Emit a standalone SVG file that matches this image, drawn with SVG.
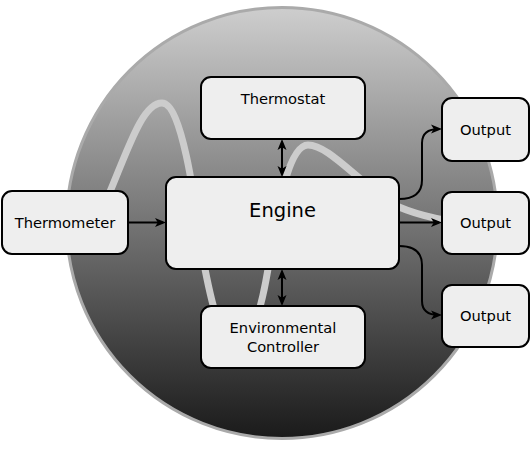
<svg xmlns="http://www.w3.org/2000/svg" width="532" height="450" viewBox="0 0 532 450">
  <defs>
    <linearGradient id="bg" x1="0" y1="0" x2="0" y2="1">
      <stop offset="0" stop-color="#cecece"/>
      <stop offset="1" stop-color="#1a1a1a"/>
    </linearGradient>
    <marker id="ah" viewBox="0 0 11 11" refX="8" refY="5.5" markerWidth="11" markerHeight="11" markerUnits="userSpaceOnUse" orient="auto-start-reverse">
      <path d="M0,1 L11,5.5 L0,10 L2.8,5.5 z" fill="#000"/>
    </marker>
  </defs>
  <style>
    .box { fill: #eeeeee; stroke: #000; stroke-width: 2; }
    .lbl { font-family: "DejaVu Sans", "Liberation Sans", sans-serif; font-size: 14.7px; fill: #000; text-anchor: middle; }
    .big { font-size: 19.5px; }
    .conn { fill: none; stroke: #000; stroke-width: 2; }
  </style>
  <g id="background">
    <circle cx="282" cy="223" r="215.5" fill="url(#bg)" stroke="#aaaaaa" stroke-width="3"/>
    <path d="M100,215 C125,160 140,103 162,103 C182,103 195,200 205,269 C213,310 222,345 237,345 C252,345 262,305 268,269 C278,200 290,145 308,145 C330,145 360,185 399,207 C420,216 450,222 480,225" fill="none" stroke="#cccccc" stroke-width="7" stroke-linecap="round"/>
  </g>
  <g id="connectors">
    <path class="conn" d="M128,222.5 L163,222.5" marker-end="url(#ah)"/>
    <path class="conn" d="M282,142 L282,174" marker-start="url(#ah)" marker-end="url(#ah)"/>
    <path class="conn" d="M282,272 L282,303" marker-start="url(#ah)" marker-end="url(#ah)"/>
    <path class="conn" d="M399,199 C415,199 422,192 422,180 L422,143 C422,133 428,129 439,129" marker-end="url(#ah)"/>
    <path class="conn" d="M399,222.5 L439,222.5" marker-end="url(#ah)"/>
    <path class="conn" d="M399,246 C415,246 422,253 422,265 L422,301 C422,311 428,315 439,315" marker-end="url(#ah)"/>
  </g>
  <g id="thermometer">
    <rect class="box" x="2" y="191" width="126" height="63" rx="10"/>
    <text class="lbl" x="65" y="228">Thermometer</text>
  </g>
  <g id="thermostat">
    <rect class="box" x="201" y="77" width="164" height="62" rx="10"/>
    <text class="lbl" x="283" y="104">Thermostat</text>
  </g>
  <g id="engine">
    <rect class="box" x="166" y="177" width="233" height="92" rx="10"/>
    <text class="lbl big" x="282.5" y="217">Engine</text>
  </g>
  <g id="controller">
    <rect class="box" x="201" y="306" width="164" height="62" rx="10"/>
    <text class="lbl" x="283" y="333">Environmental</text>
    <text class="lbl" x="283" y="352">Controller</text>
  </g>
  <g id="output1">
    <rect class="box" x="442" y="98" width="87" height="63" rx="10"/>
    <text class="lbl" x="485.5" y="135">Output</text>
  </g>
  <g id="output2">
    <rect class="box" x="442" y="192" width="87" height="62" rx="10"/>
    <text class="lbl" x="485.5" y="228">Output</text>
  </g>
  <g id="output3">
    <rect class="box" x="442" y="285" width="87" height="62" rx="10"/>
    <text class="lbl" x="485.5" y="321">Output</text>
  </g>
</svg>
